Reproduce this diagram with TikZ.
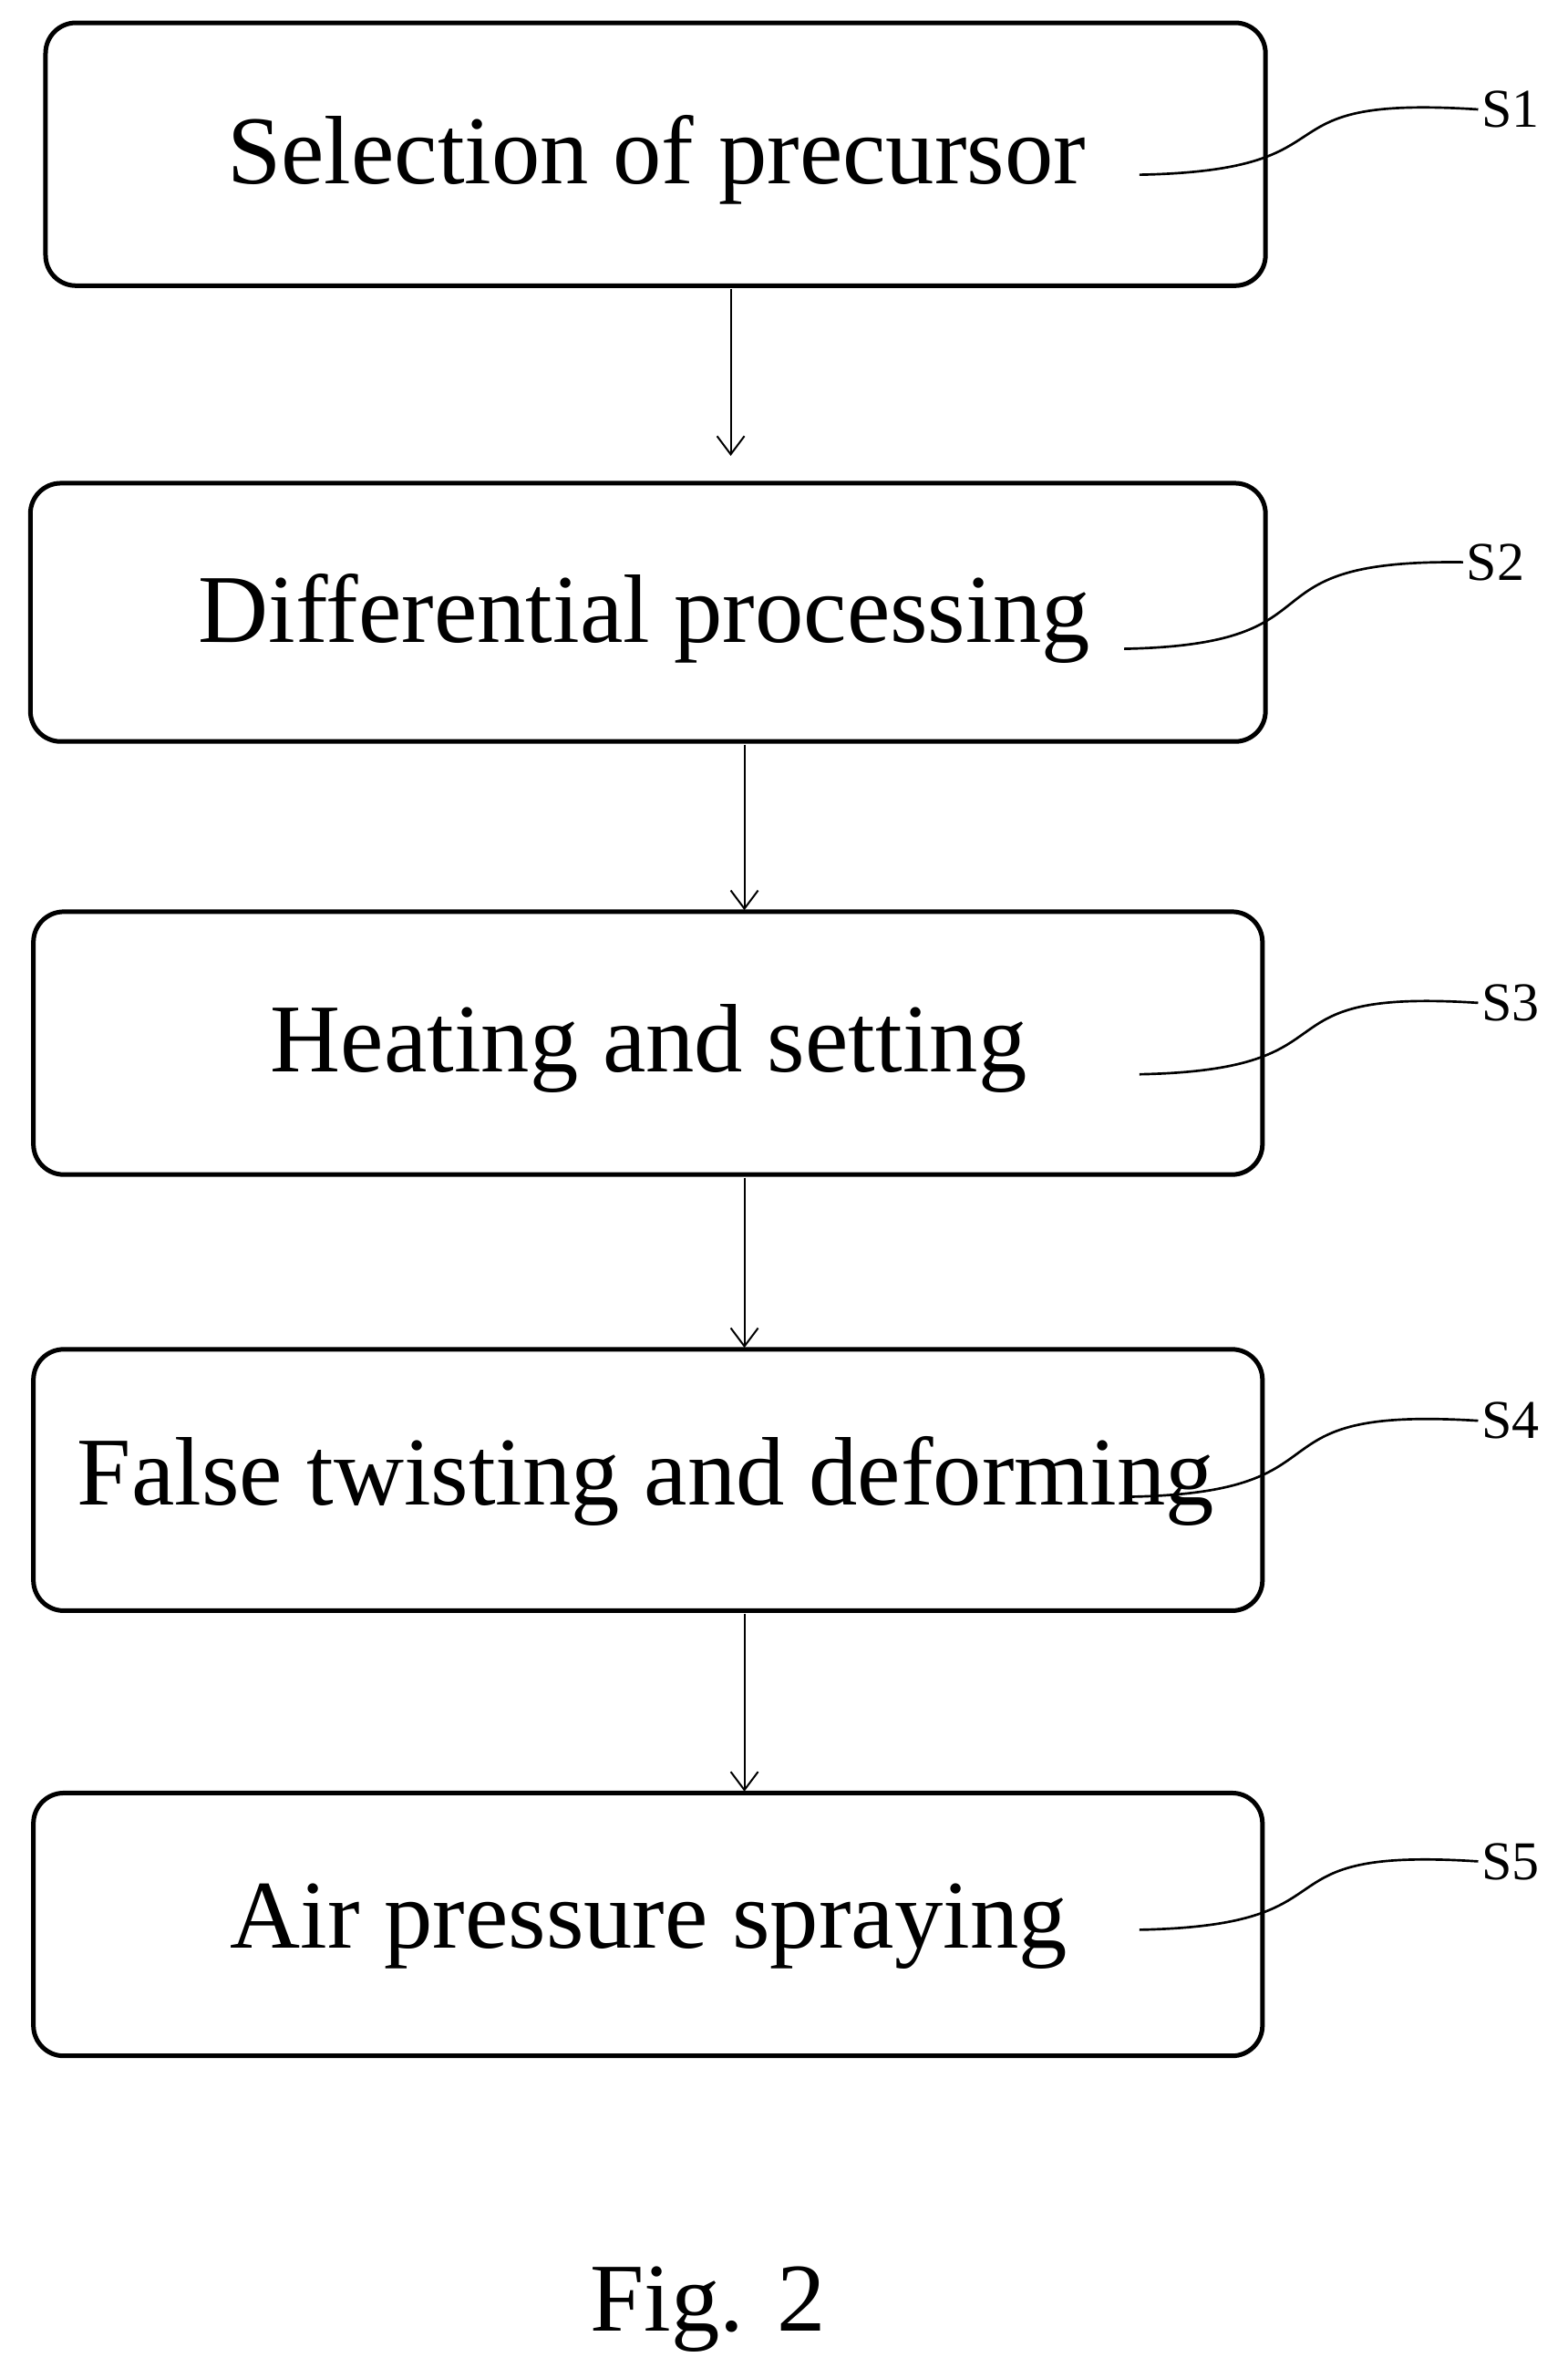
\documentclass[tikz,border=0pt]{standalone}
\usepackage{fontspec}
\setmainfont{Liberation Serif}
\usetikzlibrary{arrows.meta}
\begin{document}
\begin{tikzpicture}[x=0.5pt,y=-0.5pt,
  box/.style={draw,line width=1.5pt,rounded corners=10pt},
  txt/.style={font=\fontsize{32}{38}\selectfont,inner sep=0pt},
  lab/.style={font=\fontsize{18}{22}\selectfont,inner sep=1pt,anchor=west},
  arr/.style={-{Straight Barb[length=6pt,width=9pt]},line width=0.6pt},
  lead/.style={line width=0.8pt}]
\useasboundingbox (0,0) rectangle (1032,1565);
\draw[box] (30,15) rectangle (833,188);
\draw[box] (20,318) rectangle (833,488);
\draw[box] (22,600) rectangle (831,773);
\draw[box] (22,888) rectangle (831,1060);
\draw[box] (22,1180) rectangle (831,1353);
\node[txt] (t1) at (432,105) {Selection of precursor};
\node[txt] (t2) at (424,407) {Differential processing};
\node[txt] (t3) at (427,690) {Heating and setting};
\node[txt] (t4) at (425,975) {False twisting and deforming};
\node[txt] (t5) at (427,1268) {Air pressure spraying};
\coordinate (a1) at (481,190); \coordinate (a1e) at (481,300);
\coordinate (a2) at (490,490); \coordinate (a2e) at (490,599);
\coordinate (a3) at (490,775); \coordinate (a3e) at (490,887);
\coordinate (a4) at (490,1062); \coordinate (a4e) at (490,1179);
\draw[arr] (a1) -- (a1e);
\draw[arr] (a2) -- (a2e);
\draw[arr] (a3) -- (a3e);
\draw[arr] (a4) -- (a4e);
\node[lab] (s1) at (973,72) {S1};
\node[lab] (s2) at (963,370) {S2};
\node[lab] (s3) at (973,660) {S3};
\node[lab] (s4) at (973,935) {S4};
\node[lab] (s5) at (973,1225) {S5};
\coordinate (c1) at (750,115);
\coordinate (c2) at (740,427);
\coordinate (c3) at (750,707);
\coordinate (c4) at (745,985);
\coordinate (c5) at (750,1270);
\draw[lead] (c1) .. controls (900,112) and (820,62) .. (s1.west);
\draw[lead] (c2) .. controls (890,424) and (810,368) .. (s2.west);
\draw[lead] (c3) .. controls (900,704) and (820,650) .. (s3.west);
\draw[lead] (c4) .. controls (895,982) and (815,925) .. (s4.west);
\draw[lead] (c5) .. controls (900,1267) and (820,1215) .. (s5.west);
\node[font=\fontsize{32}{38}\selectfont] (fig) at (466,1520) {Fig. 2};
\end{tikzpicture}
\end{document}
